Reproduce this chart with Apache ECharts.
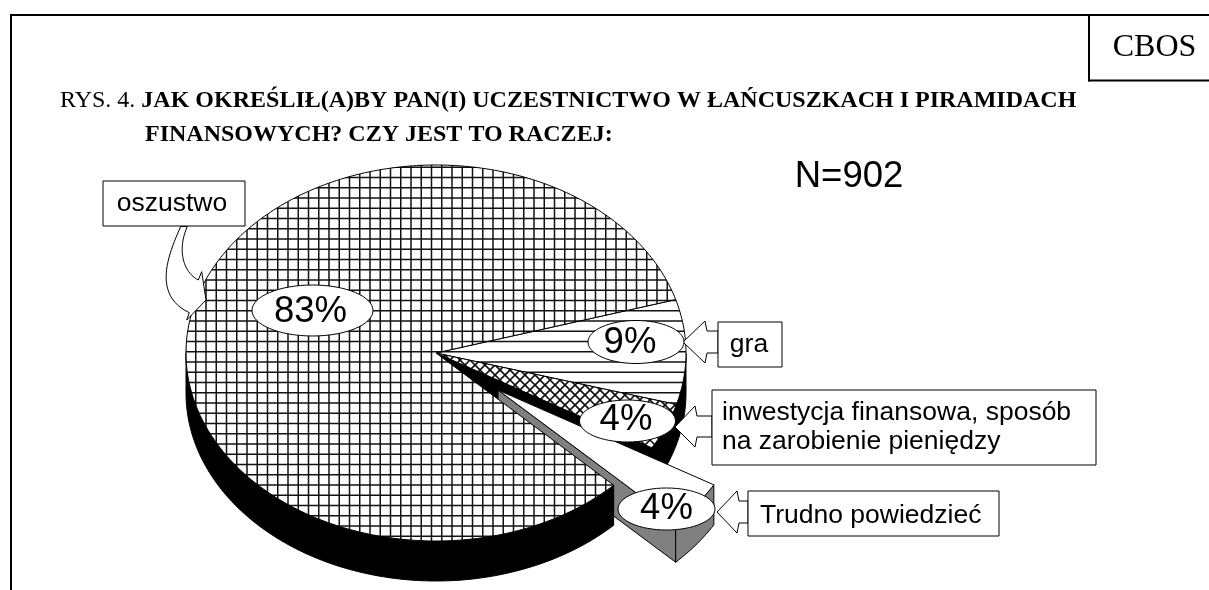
<!DOCTYPE html>
<html><head><meta charset="utf-8">
<style>html,body{margin:0;padding:0;background:#fff}#c{width:1209px;height:590px}</style>
<script src="https://cdn.jsdelivr.net/npm/echarts@6/dist/echarts.min.js"></script>
</head><body><div id="c"></div>
<script>
const categories = ['gra', 'inwestycja finansowa, sposób\nna zarobienie pieniędzy', 'Trudno powiedzieć', 'oszustwo'];
const values = [9, 4, 4, 83];
const explodedCategory = 'Trudno powiedzieć';
const titleLine1 = 'JAK OKREŚLIŁ(A)BY PAN(I) UCZESTNICTWO W ŁAŃCUSZKACH I PIRAMIDACH';
const titleLine2 = 'FINANSOWYCH? CZY JEST TO RACZEJ:';
const sampleSize = 'N=902';
const sourceTag = 'CBOS';

// ----- drawing layout (not data) -----
const PIE = {cx: 436, cy: 353, rx: 250, ry: 188, depth: 40, start: -16.5, off: [62, 37]};
const total = values.reduce((a, b) => a + b, 0);
const rad = d => d * Math.PI / 180;
const pt = (t, o, dy) => [PIE.cx + o[0] + PIE.rx * Math.cos(rad(t)), PIE.cy + o[1] + (dy || 0) + PIE.ry * Math.sin(rad(t))];
function arc(a, b, o, dy) { const r = [], n = Math.max(2, Math.ceil((b - a))); for (let k = 0; k <= n; k++) r.push(pt(a + (b - a) * k / n, o, dy)); return r; }
function bez(p0, c1, c2, p3) {
  const r = [];
  for (let k = 0; k <= 24; k++) {
    const s = k / 24, u = 1 - s;
    r.push([0, 1].map(d => u*u*u*p0[d] + 3*u*u*s*c1[d] + 3*u*s*s*c2[d] + s*s*s*p3[d]));
  }
  return r;
}

function tile(size, draw) {
  const c = document.createElement('canvas'); c.width = size; c.height = size;
  const g = c.getContext('2d'); g.fillStyle = '#fff'; g.fillRect(0, 0, size, size);
  g.strokeStyle = '#111'; draw(g, size); return c;
}
const STEP = 10.25, TILE = 41;
function hLines(g, s, phase) { g.lineWidth = 1.5; for (let k = 0; k < 4; k++) { const y = phase + k * STEP; g.beginPath(); g.moveTo(0, y); g.lineTo(s, y); g.stroke(); } }
function vLines(g, s, phase) { g.lineWidth = 1.5; for (let k = 0; k < 4; k++) { const x = phase + k * STEP; g.beginPath(); g.moveTo(x, 0); g.lineTo(x, s); g.stroke(); } }
const patGrid = {image: tile(TILE, (g, s) => { hLines(g, s, 3.3); vLines(g, s, 1); }), repeat: 'repeat'};
const patHoriz = {image: tile(TILE, (g, s) => hLines(g, s, 3.3)), repeat: 'repeat'};
const patDiamond = {image: tile(20, (g, s) => {
  g.lineWidth = 1.6;
  for (let k = -2; k <= 2; k++) {
    g.beginPath(); g.moveTo(k * 10, 0); g.lineTo(k * 10 + s, s); g.stroke();
    g.beginPath(); g.moveTo(k * 10, s); g.lineTo(k * 10 + s, 0); g.stroke();
  }
}), repeat: 'repeat'};
const sliceStyle = {
  'gra': {top: patHoriz, wall: '#000'},
  [categories[1]]: {top: patDiamond, wall: '#000'},
  'Trudno powiedzieć': {top: '#fff', wall: '#808080'},
  'oszustwo': {top: patGrid, wall: '#000'}
};
const curvedArrow = bez([180.7,226.5],[168,255],[152,295],[189.3,312.7])
  .concat([[186.7,320],[206,300],[201.7,271.7]])
  .concat(bez([198.3,280],[183,272],[177,250],[187.3,226.5]));
const calloutLayout = {
  'gra': {ell: [636, 342, 48, 21.5], pct: [630, 342.5], box: [718, 322, 64, 45], text: [749, 344.5, 'center'],
    arrow: [[683,342],[705,321],[707,331],[718,331],[718,353],[707,353],[705,363]]},
  [categories[1]]: {ell: [627.5, 421, 48, 21], pct: [626, 419.5], box: [712, 390, 384, 75], text: [722, 427.5, 'left'],
    arrow: [[675,427],[695,406],[697,416],[712,416],[712,437],[697,437],[695,447]]},
  'Trudno powiedzieć': {ell: [666.5, 509, 48.5, 21], pct: [666.5, 508.5], box: [748, 491, 251, 45], text: [760, 516, 'left'],
    arrow: [[717,512],[737,491],[739,501],[748,501],[748,523],[739,523],[737,533]]},
  'oszustwo': {ell: [312.5, 310.5, 60.5, 25.5], pct: [310.5, 311.5], box: [103, 181, 142, 45], text: [172, 204, 'center'],
    arrow: curvedArrow}
};
const LINE = {stroke: '#000', lineWidth: 1};

function renderSlice(params, api) {
  const i = params.dataIndex, name = categories[i], v = api.value(0);
  let acc = 0; for (let k = 0; k < i; k++) acc += values[k];
  const a = PIE.start + acc / total * 360, b = a + v / total * 360;
  const o = name === explodedCategory ? PIE.off : [0, 0];
  const st = sliceStyle[name], wallStyle = {fill: st.wall, stroke: '#000', lineWidth: 1};
  const centre = [PIE.cx + o[0], PIE.cy + o[1]];
  const kids = [];
  if (b < 90) {
    const e = pt(b, o), e2 = pt(b, o, PIE.depth);
    kids.push({type: 'polygon', shape: {points: [centre, e, e2, [centre[0], centre[1] + PIE.depth]]}, style: wallStyle});
  }
  const wa = Math.max(a, 0), wb = Math.min(b, 180);
  if (wb > wa) {
    kids.push({type: 'polygon', shape: {points: arc(wa, wb, o, 0).concat(arc(wa, wb, o, PIE.depth).reverse())}, style: wallStyle});
  }
  kids.push({type: 'polygon', shape: {points: [centre].concat(arc(a, b, o, 0))},
    style: {fill: st.top, stroke: '#000', lineWidth: 1}});
  return {type: 'group', children: kids};
}
function renderCallout(params, api) {
  const i = params.dataIndex, name = categories[i], L = calloutLayout[name];
  const kids = [];
  kids.push({type: 'polygon', shape: {points: L.arrow}, style: {fill: '#fff', ...LINE}});
  kids.push({type: 'rect', shape: {x: L.box[0], y: L.box[1], width: L.box[2], height: L.box[3]}, style: {fill: '#fff', ...LINE}});
  kids.push({type: 'text', x: L.text[0], y: L.text[1], style: {text: name, align: L.text[2], verticalAlign: 'middle',
    font: '26.5px "Liberation Sans", Arial, sans-serif', lineHeight: 29, fill: '#000'}});
  kids.push({type: 'ellipse', shape: {cx: L.ell[0], cy: L.ell[1], rx: L.ell[2], ry: L.ell[3]}, style: {fill: '#fff', ...LINE}});
  kids.push({type: 'text', x: L.pct[0], y: L.pct[1], style: {text: api.value(0) + '%', align: 'center', verticalAlign: 'middle',
    font: '36.5px "Liberation Sans", Arial, sans-serif', fill: '#000'}});
  return {type: 'group', children: kids};
}

const chart = echarts.init(document.getElementById('c'), null, {renderer: 'canvas', width: 1209, height: 590});
chart.setOption({
  backgroundColor: '#fff',
  animation: false,
  title: [
    {left: 60, top: 89, padding: 0, text: '{r|RYS. 4. }{b|' + titleLine1 + '}',
      textStyle: {fontWeight: 'normal', rich: {r: {fontFamily: 'Liberation Serif', fontSize: 24, fontWeight: 'normal', color: '#000'},
        b: {fontFamily: 'Liberation Serif', fontSize: 24, fontWeight: 'bold', color: '#000'}}}},
    {left: 145, top: 122.5, padding: 0, text: titleLine2,
      textStyle: {fontFamily: 'Liberation Serif', fontSize: 24, fontWeight: 'bold', color: '#000'}}
  ],
  graphic: [
    {type: 'line', shape: {x1: 10, y1: 15, x2: 1209, y2: 15}, style: {stroke: '#000', lineWidth: 2}},
    {type: 'line', shape: {x1: 11, y1: 14, x2: 11, y2: 590}, style: {stroke: '#000', lineWidth: 2}},
    {type: 'line', shape: {x1: 1089, y1: 14, x2: 1089, y2: 81.5}, style: {stroke: '#000', lineWidth: 2}},
    {type: 'line', shape: {x1: 1088, y1: 80.5, x2: 1209, y2: 80.5}, style: {stroke: '#000', lineWidth: 2}},
    {type: 'text', x: 1154.5, y: 48, style: {text: sourceTag, align: 'center', verticalAlign: 'middle',
      font: '32px "Liberation Serif", serif', fill: '#000'}},
    {type: 'text', x: 849, y: 177, style: {text: sampleSize, align: 'center', verticalAlign: 'middle',
      font: '36.5px "Liberation Sans", Arial, sans-serif', fill: '#000'}}
  ],
  series: [
    {type: 'custom', name: 'slices', coordinateSystem: 'none', silent: true, clip: false, z: 2, renderItem: renderSlice, data: values},
    {type: 'custom', name: 'callouts', coordinateSystem: 'none', silent: true, clip: false, z: 3, renderItem: renderCallout, data: values}
  ]
});
</script></body></html>
